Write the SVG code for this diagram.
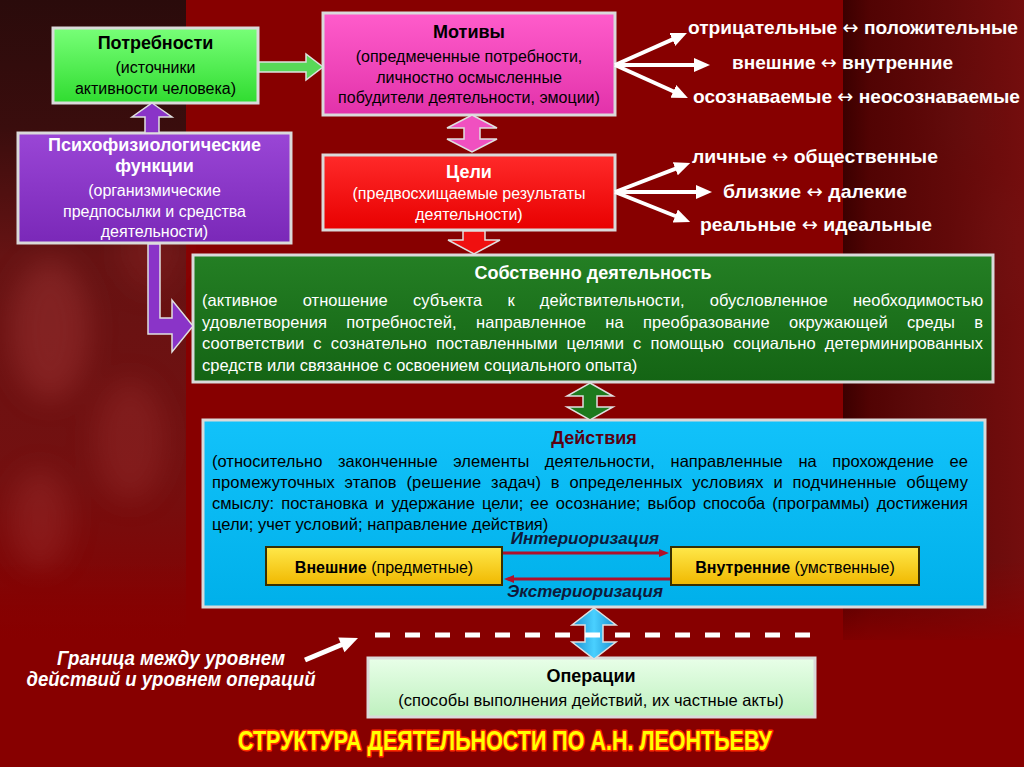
<svg xmlns="http://www.w3.org/2000/svg" width="1024" height="767" viewBox="0 0 1024 767">
<defs>
<style>
.f{font-family:"Liberation Sans",Arial,sans-serif}
.b{font-weight:bold}
.box{stroke:#dadada;stroke-width:3}
.t16{font-family:"Liberation Sans",Arial,sans-serif;font-size:16px}
.t165{font-family:"Liberation Sans",Arial,sans-serif;font-size:16.5px}
.h18{font-family:"Liberation Sans",Arial,sans-serif;font-size:18px;font-weight:bold}
.rt{font-family:"Liberation Sans",Arial,sans-serif;font-size:19px;font-weight:bold;fill:#fff}
.ar{font-family:"DejaVu Sans",sans-serif;font-weight:normal}
.wl{stroke:#fff;stroke-width:4;fill:none}
.dl{stroke:#b0102a;stroke-width:3;fill:none}
.it{font-family:"Liberation Sans",Arial,sans-serif;font-size:17px;font-weight:bold;font-style:italic;fill:#101a3a}
.blk{stroke:#e0e0e0;stroke-width:1.5}
</style>
<linearGradient id="gl" x1="0" y1="0" x2="0" y2="1">
<stop offset="0" stop-color="#2a0b0b"/><stop offset="0.2" stop-color="#3a0d0d"/><stop offset="0.4" stop-color="#661313"/><stop offset="0.75" stop-color="#741010"/><stop offset="1" stop-color="#870000"/>
</linearGradient>
<linearGradient id="gr" x1="0" y1="0" x2="1" y2="0">
<stop offset="0" stop-color="#2e0000"/><stop offset="0.15" stop-color="#480404"/><stop offset="0.6" stop-color="#5c0b0b"/><stop offset="1" stop-color="#701010"/>
</linearGradient>
<linearGradient id="fade" x1="0" y1="0" x2="0" y2="1">
<stop offset="0" stop-color="#870000" stop-opacity="0"/><stop offset="1" stop-color="#870000" stop-opacity="1"/>
</linearGradient>
<filter id="blur" x="-50%" y="-50%" width="200%" height="200%"><feGaussianBlur stdDeviation="14"/></filter>
<linearGradient id="gP" x1="0" y1="0" x2="0" y2="1"><stop offset="0" stop-color="#78ff78"/><stop offset="1" stop-color="#30dc30"/></linearGradient>
<linearGradient id="gM" x1="0" y1="0" x2="0" y2="1"><stop offset="0" stop-color="#ff5ccb"/><stop offset="1" stop-color="#e232aa"/></linearGradient>
<linearGradient id="gPs" x1="0" y1="0" x2="0" y2="1"><stop offset="0" stop-color="#9a46d6"/><stop offset="1" stop-color="#7a28b8"/></linearGradient>
<linearGradient id="gC" x1="0" y1="0" x2="0" y2="1"><stop offset="0" stop-color="#ff2a2a"/><stop offset="1" stop-color="#e80000"/></linearGradient>
<linearGradient id="gS" x1="0" y1="0" x2="0" y2="1"><stop offset="0" stop-color="#247f24"/><stop offset="1" stop-color="#146414"/></linearGradient>
<linearGradient id="gD" x1="0" y1="0" x2="0" y2="1"><stop offset="0" stop-color="#12c2fa"/><stop offset="1" stop-color="#00b0ea"/></linearGradient>
<linearGradient id="gY" x1="0" y1="0" x2="0" y2="1"><stop offset="0" stop-color="#ffe84a"/><stop offset="1" stop-color="#f0b800"/></linearGradient>
<linearGradient id="gO" x1="0" y1="0" x2="0" y2="1"><stop offset="0" stop-color="#e8ffe8"/><stop offset="1" stop-color="#bff0bf"/></linearGradient>
<linearGradient id="gCy" x1="0" y1="0" x2="1" y2="0"><stop offset="0" stop-color="#1a8fd0"/><stop offset="0.5" stop-color="#4ad0ff"/><stop offset="1" stop-color="#1a8fd0"/></linearGradient>
<marker id="wh" markerUnits="userSpaceOnUse" markerWidth="18" markerHeight="16" refX="4" refY="7" orient="auto"><path d="M0,0 L16,7 L0,14 z" fill="#fff"/></marker>
<marker id="dr" markerUnits="userSpaceOnUse" markerWidth="12" markerHeight="10" refX="2" refY="4" orient="auto"><path d="M0,0 L10,4 L0,8 z" fill="#b0102a"/></marker>
</defs>

<g id="background">
<rect width="1024" height="767" fill="#870000"/>
<rect x="0" y="0" width="186" height="640" fill="url(#gl)"/>
<g filter="url(#blur)" opacity="0.35">
<ellipse cx="50" cy="330" rx="40" ry="70" fill="#b04040"/>
<ellipse cx="130" cy="440" rx="35" ry="60" fill="#a03030"/>
<ellipse cx="40" cy="520" rx="30" ry="50" fill="#a53535"/>
<ellipse cx="150" cy="250" rx="30" ry="40" fill="#902828"/>
<ellipse cx="930" cy="420" rx="40" ry="70" fill="#9a3030"/>
<ellipse cx="1000" cy="250" rx="30" ry="60" fill="#9a2a2a"/>
<ellipse cx="960" cy="120" rx="30" ry="40" fill="#802020"/>
</g>
<rect x="843" y="0" width="181" height="640" fill="url(#gr)" opacity="0.85"/>
<rect x="0" y="560" width="1024" height="90" fill="url(#fade)"/>
</g>

<g id="potrebnosti">
<rect x="53" y="28" width="205" height="75" fill="url(#gP)" class="box"/>
<text x="155.5" y="49" text-anchor="middle" class="h18">Потребности</text>
<text x="155.5" y="73" text-anchor="middle" class="t16">(источники</text>
<text x="155.5" y="94" text-anchor="middle" class="t16">активности человека)</text>
</g>

<g id="motivy">
<rect x="323" y="13" width="292" height="102" fill="url(#gM)" class="box"/>
<text x="469" y="38" text-anchor="middle" class="h18">Мотивы</text>
<text x="469" y="62" text-anchor="middle" class="t16">(опредмеченные потребности,</text>
<text x="469" y="83" text-anchor="middle" class="t16">личностно осмысленные</text>
<text x="469" y="103" text-anchor="middle" class="t16">побудители деятельности, эмоции)</text>
</g>

<g id="psihofiz">
<rect x="18" y="133" width="273" height="110" fill="url(#gPs)" class="box"/>
<text x="154.5" y="151" text-anchor="middle" class="h18" fill="#fff">Психофизиологические</text>
<text x="154.5" y="172" text-anchor="middle" class="h18" fill="#fff">функции</text>
<text x="154.5" y="196" text-anchor="middle" class="t16" fill="#fff">(организмические</text>
<text x="154.5" y="217" text-anchor="middle" class="t16" fill="#fff">предпосылки и средства</text>
<text x="154.5" y="237" text-anchor="middle" class="t16" fill="#fff">деятельности)</text>
</g>

<g id="celi">
<rect x="323" y="155" width="292" height="75" fill="url(#gC)" class="box"/>
<text x="469" y="178" text-anchor="middle" class="h18" fill="#fff">Цели</text>
<text x="469" y="199" text-anchor="middle" class="t16" fill="#fff">(предвосхищаемые результаты</text>
<text x="469" y="220" text-anchor="middle" class="t16" fill="#fff">деятельности)</text>
</g>

<g id="motive-types">
<text x="688" y="34" class="rt" textLength="330" lengthAdjust="spacingAndGlyphs">отрицательные <tspan class="ar">↔</tspan> положительные</text>
<text x="732" y="69" class="rt" textLength="221" lengthAdjust="spacingAndGlyphs">внешние <tspan class="ar">↔</tspan> внутренние</text>
<text x="693" y="103" class="rt" textLength="327" lengthAdjust="spacingAndGlyphs">осознаваемые <tspan class="ar">↔</tspan> неосознаваемые</text>
</g>

<g id="goal-types">
<text x="692" y="163" class="rt" textLength="246" lengthAdjust="spacingAndGlyphs">личные <tspan class="ar">↔</tspan> общественные</text>
<text x="723" y="198" class="rt" textLength="184" lengthAdjust="spacingAndGlyphs">близкие <tspan class="ar">↔</tspan> далекие</text>
<text x="700" y="231" class="rt" textLength="232" lengthAdjust="spacingAndGlyphs">реальные <tspan class="ar">↔</tspan> идеальные</text>
</g>

<g id="sobstvenno">
<rect x="193" y="255" width="800" height="127" fill="url(#gS)" class="box"/>
<text x="593" y="279" text-anchor="middle" class="h18" fill="#fff">Собственно деятельность</text>
<text x="202" y="306" class="t165" fill="#fff" word-spacing="20.5" textLength="781" lengthAdjust="spacing">(активное отношение субъекта к действительности, обусловленное необходимостью</text>
<text x="202" y="328" class="t165" fill="#fff" word-spacing="14.6" textLength="781" lengthAdjust="spacing">удовлетворения потребностей, направленное на преобразование окружающей среды в</text>
<text x="202" y="349" class="t165" fill="#fff" word-spacing="4.5" textLength="781" lengthAdjust="spacing">соответствии с сознательно поставленными целями с помощью социально детерминированных</text>
<text x="202" y="371" class="t165" fill="#fff">средств или связанное с освоением социального опыта)</text>
</g>

<g id="deystviya">
<rect x="203" y="420" width="782" height="187" fill="url(#gD)" class="box"/>
<text x="594" y="444" text-anchor="middle" class="h18" fill="#5a0010">Действия</text>
<text x="212" y="467" class="t165" word-spacing="11" textLength="756" lengthAdjust="spacing">(относительно законченные элементы деятельности, направленные на прохождение ее</text>
<text x="212" y="488" class="t165" word-spacing="5" textLength="756" lengthAdjust="spacing">промежуточных этапов (решение задач) в определенных условиях и подчиненные общему</text>
<text x="212" y="509" class="t165" word-spacing="2.5" textLength="756" lengthAdjust="spacing">смыслу: постановка и удержание цели; ее осознание; выбор способа (программы) достижения</text>
<text x="212" y="530" class="t165">цели; учет условий; направление действия)</text>
<text x="585" y="544" text-anchor="middle" class="it">Интериоризация</text>
<text x="585" y="597" text-anchor="middle" class="it">Экстериоризация</text>
</g>

<g id="vneshnie">
<rect x="266" y="547" width="236" height="38" fill="url(#gY)" stroke="#3a3000" stroke-width="2"/>
<text x="384" y="573" text-anchor="middle" class="t16"><tspan font-weight="bold">Внешние</tspan> (предметные)</text>
</g>

<g id="vnutrennie">
<rect x="671" y="547" width="248" height="38" fill="url(#gY)" stroke="#3a3000" stroke-width="2"/>
<text x="795" y="573" text-anchor="middle" class="t16"><tspan font-weight="bold">Внутренние</tspan> (умственные)</text>
</g>

<g id="operacii">
<rect x="368" y="658" width="447" height="59" fill="url(#gO)" class="box"/>
<text x="591" y="682" text-anchor="middle" class="h18">Операции</text>
<text x="591" y="706" text-anchor="middle" class="t165">(способы выполнения действий, их частные акты)</text>
</g>

<g id="granica">
<text x="171" y="665" text-anchor="middle" class="f b" font-style="italic" font-size="20" fill="#fff" textLength="228" lengthAdjust="spacingAndGlyphs">Граница между уровнем</text>
<text x="171" y="686" text-anchor="middle" class="f b" font-style="italic" font-size="20" fill="#fff" textLength="289" lengthAdjust="spacingAndGlyphs">действий и уровнем операций</text>
</g>

<g id="title">
<text x="505" y="750" text-anchor="middle" class="f b" font-size="27" fill="#ffff00" stroke="#ff2a00" stroke-width="3" paint-order="stroke" stroke-linejoin="round" textLength="534" lengthAdjust="spacingAndGlyphs">СТРУКТУРА ДЕЯТЕЛЬНОСТИ ПО А.Н. ЛЕОНТЬЕВУ</text>
</g>

<g id="connectors">
<polygon points="259,62 306,62 306,54 323,67 306,80 306,72 259,72" fill="#58d858" class="blk"/>
<polygon points="152,103 172,117 159,117 159,133 145,133 145,117 132,117" fill="#8a34c8" class="blk"/>
<polygon points="148,244 160,244 160,318 172,318 172,300 193,326 172,352 172,334 148,334" fill="#8a34c8" class="blk"/>
<polygon points="472,115 497,128 480,128 480,139 497,139 472,152 447,139 464,139 464,128 447,128" fill="#f050c0" class="blk"/>
<polygon points="463,231 485,231 485,240 500,240 474,254 448,240 463,240" fill="#f01010" class="blk"/>
<polygon points="590,383 613,396 597,396 597,407 613,407 590,420 567,407 583,407 583,396 567,396" fill="#1d7a1d" class="blk"/>
<polygon points="594,608 616,625 603,625 603,642 616,642 594,659 572,642 585,642 585,625 572,625" fill="url(#gCy)" class="blk"/>
<line x1="615" y1="65" x2="676" y2="37.9" class="wl" marker-end="url(#wh)"/>
<line x1="615" y1="65" x2="698" y2="65" class="wl" marker-end="url(#wh)"/>
<line x1="615" y1="65" x2="677" y2="93" class="wl" marker-end="url(#wh)"/>
<line x1="615" y1="192" x2="679" y2="167.3" class="wl" marker-end="url(#wh)"/>
<line x1="615" y1="192" x2="700" y2="192" class="wl" marker-end="url(#wh)"/>
<line x1="615" y1="192" x2="679" y2="217.5" class="wl" marker-end="url(#wh)"/>
<line x1="503" y1="553" x2="661" y2="553" class="dl" marker-end="url(#dr)"/>
<line x1="670" y1="579" x2="512" y2="579" class="dl" marker-end="url(#dr)"/>
<line x1="375" y1="635" x2="812" y2="635" stroke="#fff" stroke-width="5" stroke-dasharray="15 15"/>
<line x1="305" y1="660" x2="342" y2="644.5" stroke="#fff" stroke-width="5"/>
<polygon points="358,638 344.5,652.3 338.3,637.5" fill="#fff"/>
</g>
</svg>
